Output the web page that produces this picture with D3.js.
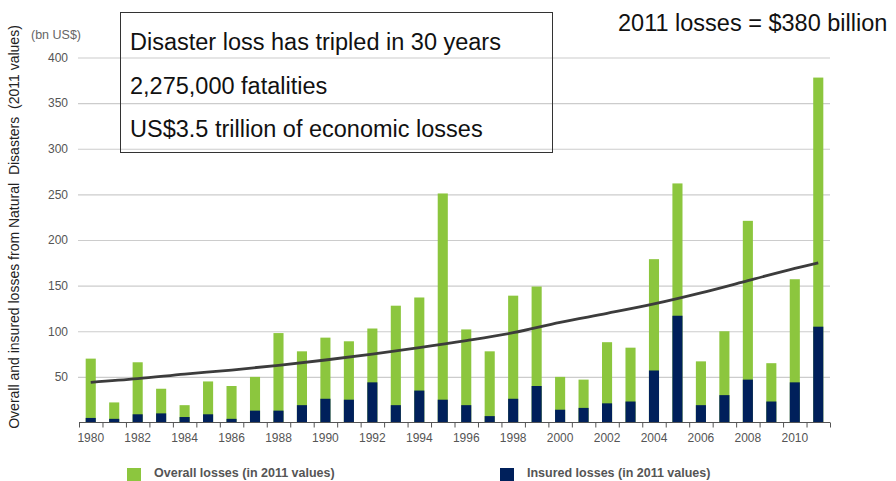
<!DOCTYPE html>
<html>
<head>
<meta charset="utf-8">
<script src="https://cdn.jsdelivr.net/npm/d3@7"></script>
<style>
  body { margin: 0; background: #fff; }
  svg { font-family: "Liberation Sans", Arial, sans-serif; display: block; }
</style>
</head>
<body>
<svg width="896" height="481"></svg>
<script>
const years = d3.range(1980, 2012);
const overall = [70, 22, 66, 37, 19, 45, 40, 50, 98, 78, 93, 89, 103, 128, 137, 251,
                 102, 78, 139, 149, 50, 47, 88, 82, 179, 262, 67, 100, 221, 65, 157, 378];
const insured = [5, 4, 9, 10, 6, 9, 4, 13, 13, 19, 26, 25, 44, 19, 35, 25,
                 19, 7, 26, 40, 14, 16, 21, 23, 57, 117, 19, 30, 47, 23, 44, 105];
const trendYears = [1980, 1982, 1984, 1986, 1988, 1990, 1992, 1994, 1996, 1998, 2000, 2002, 2004, 2006, 2008, 2010, 2011];
const trendVals = [44, 48, 53, 57.5, 62.7, 68.5, 75, 82, 89.7, 98.4, 109.8, 119.6, 129.9, 142, 155.4, 169, 175];
const yTicks = [50, 100, 150, 200, 250, 300, 350, 400];
const labelYears = years.filter(y => y % 2 === 0);
const boxLines = ["Disaster loss has tripled in 30 years", "2,275,000 fatalities", "US$3.5 trillion of economic losses"];

const svg = d3.select("svg");
const green = "#8cc63e";
const navy = "#00205b";

const plotLeft = 79, plotRight = 830, plotTop = 57.5, plotBottom = 422.5;

const x = d3.scaleBand().domain(years).range([plotLeft, plotRight]).paddingInner(0.57).paddingOuter(0.285);
const xLin = d3.scaleLinear().domain([1980, 2012]).range([plotLeft, plotRight]);
const y = d3.scaleLinear().domain([0, 400]).range([plotBottom, plotTop]);

// gridlines + y labels
const yAxis = svg.append("g")
    .attr("transform", `translate(${plotLeft - 1},0)`)
    .call(d3.axisLeft(y).tickValues(yTicks).tickSize(-(plotRight - plotLeft + 1)).tickPadding(10));
yAxis.select(".domain").remove();
yAxis.selectAll(".tick line").attr("stroke", "#cccccc").attr("stroke-width", 1.2);
yAxis.selectAll(".tick text").attr("fill", "#555").attr("font-size", 12);

svg.append("text")
    .attr("x", 31).attr("y", 39)
    .attr("font-size", 12.5).attr("fill", "#666")
    .text("(bn US$)");

// y title
svg.append("text")
    .attr("transform", "translate(19,227) rotate(-90)")
    .attr("text-anchor", "middle")
    .attr("font-size", 14).attr("fill", "#222")
    .style("white-space", "pre")
    .text("Overall and insured losses from Natural  Disasters  (2011 values)");

// bars
svg.append("g").selectAll("rect").data(years).join("rect")
    .attr("x", d => x(d)).attr("width", x.bandwidth())
    .attr("y", (d, i) => y(overall[i]))
    .attr("height", (d, i) => y(0) - y(overall[i]))
    .attr("fill", green);

svg.append("g").selectAll("rect").data(years).join("rect")
    .attr("x", d => x(d)).attr("width", x.bandwidth())
    .attr("y", (d, i) => y(insured[i]))
    .attr("height", (d, i) => y(0) - y(insured[i]))
    .attr("fill", navy);

// trend line
const line = d3.line()
    .x(d => x(d[0]) + x.bandwidth() / 2)
    .y(d => y(d[1]))
    .curve(d3.curveMonotoneX);
svg.append("path")
    .datum(trendYears.map((yr, i) => [yr, trendVals[i]]))
    .attr("d", line)
    .attr("fill", "none")
    .attr("stroke", "#3c3c3c")
    .attr("stroke-width", 2.8);

// x axis with ticks at band edges
const xAxis = svg.append("g")
    .attr("transform", `translate(0,${plotBottom})`)
    .call(d3.axisBottom(xLin).tickValues(d3.range(1980, 2013)).tickSize(5).tickFormat(""));
xAxis.select(".domain").attr("stroke", "#555").attr("d", `M${plotLeft},0H${plotRight}`);
xAxis.selectAll(".tick line").attr("stroke", "#555");

const xLabels = svg.append("g")
    .attr("transform", `translate(0,${plotBottom})`)
    .call(d3.axisBottom(x).tickValues(labelYears).tickSize(0).tickPadding(11));
xLabels.select(".domain").remove();
xLabels.selectAll(".tick text").attr("fill", "#555").attr("font-size", 12);

// annotation box
svg.append("rect")
    .attr("x", 120.5).attr("y", 12.5)
    .attr("width", 432).attr("height", 140)
    .attr("fill", "none").attr("stroke", "#333").attr("stroke-width", 1);

svg.append("g").selectAll("text").data(boxLines).join("text")
    .attr("x", 130).attr("y", (d, i) => 50 + i * 43.5)
    .attr("font-size", 23.5).attr("fill", "#111")
    .text(d => d);

svg.append("text")
    .attr("x", 618).attr("y", 31)
    .attr("font-size", 23.5).attr("fill", "#111")
    .text("2011 losses = $380 billion");

// legend
const legend = [
  { label: "Overall losses (in 2011 values)", color: green, x: 127 },
  { label: "Insured losses (in 2011 values)", color: navy, x: 500 }
];
const lg = svg.append("g").selectAll("g").data(legend).join("g")
    .attr("transform", d => `translate(${d.x},468)`);
lg.append("rect").attr("width", 14).attr("height", 13).attr("fill", d => d.color);
lg.append("text")
    .attr("x", 27).attr("y", 9)
    .attr("font-size", 12.5).attr("font-weight", "bold").attr("fill", "#555")
    .text(d => d.label);
</script>
</body>
</html>
